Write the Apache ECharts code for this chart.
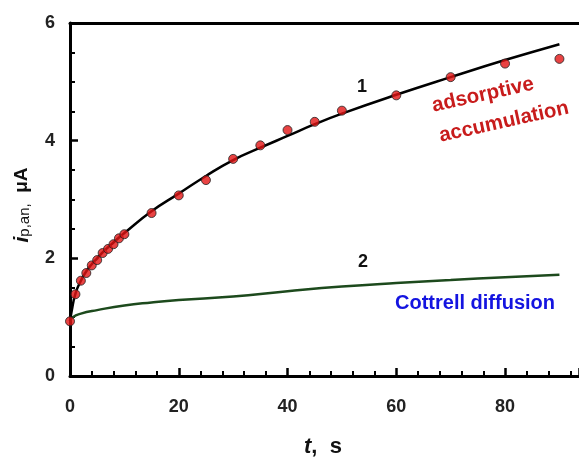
<!DOCTYPE html>
<html><head><meta charset="utf-8">
<script src="https://cdn.jsdelivr.net/npm/echarts@6/dist/echarts.min.js"></script>
<style>html,body{margin:0;padding:0;background:#fff}#c{width:579px;height:458px}</style>
</head><body><div id="c"></div>
<script>
// measured points: t (s), i (µA)
const pointT = [0, 1, 2, 3, 4, 5, 6, 7, 8, 9, 10, 15, 20, 25, 30, 35, 40, 45, 50, 60, 70, 80, 90];
const pointI = [0.93, 1.39, 1.62, 1.75, 1.88, 1.97, 2.09, 2.16, 2.24, 2.34, 2.41, 2.77, 3.07, 3.33, 3.69, 3.92, 4.18, 4.32, 4.51, 4.77, 5.08, 5.31, 5.39];
// curve 1 (adsorptive accumulation)
const curve1T = [0, 0.3, 1, 2, 3, 4, 5, 6, 8, 10, 15, 20, 25, 30, 35, 40, 45, 50, 60, 70, 80, 90];
const curve1I = [0.93, 1.1, 1.4, 1.62, 1.78, 1.9, 2.0, 2.1, 2.27, 2.43, 2.8, 3.1, 3.4, 3.67, 3.88, 4.08, 4.28, 4.46, 4.78, 5.08, 5.37, 5.64];
// curve 2 (Cottrell diffusion)
const curve2T = [0, 0.5, 2, 5, 10, 15, 20, 30, 40, 50, 60, 70, 80, 90];
const curve2I = [0.93, 1.0, 1.06, 1.12, 1.2, 1.25, 1.29, 1.35, 1.44, 1.52, 1.58, 1.63, 1.68, 1.72];
const xTicks = [0, 20, 40, 60, 80];
const yTicks = [0, 2, 4, 6];

const zip = (a, b) => a.map((v, i) => [v, b[i]]);
const chart = echarts.init(document.getElementById('c'), null, {renderer: 'canvas'});
const F = '"Liberation Sans", Arial, sans-serif';
const lab = {fontFamily: F, fontWeight: 'bold', fontSize: 18, color: '#222'};
const rot = 12.5 * Math.PI / 180;
chart.setOption({
  animation: false,
  grid: {left: 70, top: 23, right: 0, bottom: 82},
  xAxis: [{
    type: 'value', min: 0, max: 93.6, interval: 20,
    axisLine: {lineStyle: {color: '#000', width: 3}},
    axisTick: {inside: true, length: 8, lineStyle: {color: '#000', width: 2.5}},
    minorTick: {show: true, splitNumber: 5, length: 5, lineStyle: {color: '#000', width: 2}},
    axisLabel: Object.assign({margin: 22, showMaxLabel: false,
      formatter: v => xTicks.includes(v) ? String(v) : ''}, lab),
    splitLine: {show: false}
  }, {
    type: 'value', min: 0, max: 93.6, position: 'top',
    axisLine: {show: true, onZero: false, lineStyle: {color: '#000', width: 3}},
    axisTick: {show: false}, axisLabel: {show: false}, splitLine: {show: false}
  }],
  yAxis: {
    type: 'value', min: 0, max: 6, interval: 2,
    axisLine: {show: true, lineStyle: {color: '#000', width: 3}},
    axisTick: {inside: true, length: 8, lineStyle: {color: '#000', width: 2.5}},
    minorTick: {show: true, splitNumber: 4, length: 5, lineStyle: {color: '#000', width: 2}},
    axisLabel: Object.assign({margin: 15, formatter: v => yTicks.includes(v) ? String(v) : ''}, lab),
    splitLine: {show: false}
  },
  series: [
    {type: 'line', data: zip(curve2T, curve2I), smooth: true, showSymbol: false,
     lineStyle: {color: '#1d4a1d', width: 2.5}, z: 2},
    {type: 'line', data: zip(curve1T, curve1I), smooth: true, showSymbol: false,
     lineStyle: {color: '#000', width: 2.5}, z: 3},
    {type: 'scatter', data: zip(pointT, pointI), symbol: 'circle', symbolSize: 9,
     itemStyle: {color: '#e31414', borderColor: '#222', borderWidth: 1}, z: 4}
  ],
  graphic: [
    {type: 'text', x: 362, y: 87, style: {text: '1', font: 'bold 18px ' + F, fill: '#111', align: 'center', verticalAlign: 'middle'}},
    {type: 'text', x: 363, y: 262, style: {text: '2', font: 'bold 18px ' + F, fill: '#111', align: 'center', verticalAlign: 'middle'}},
    {type: 'text', x: 475, y: 303, style: {text: 'Cottrell diffusion', font: 'bold 20px ' + F, fill: '#1414e0', align: 'center', verticalAlign: 'middle'}},
    {type: 'text', x: 483, y: 95, rotation: rot,
     style: {text: 'adsorptive', font: 'bold 20.5px ' + F, fill: '#c81c1c', align: 'center', verticalAlign: 'middle'}},
    {type: 'text', x: 504, y: 122, rotation: rot,
     style: {text: 'accumulation', font: 'bold 20.5px ' + F, fill: '#c81c1c', align: 'center', verticalAlign: 'middle'}},
    {type: 'text', x: 304, y: 447,
     style: {text: '{t|t}{n|,  s}', verticalAlign: 'middle',
             rich: {t: {font: 'italic bold 22px ' + F, fill: '#111'},
                    n: {font: 'bold 22px ' + F, fill: '#111'}}}},
    {type: 'text', x: 22, y: 205, rotation: Math.PI / 2,
     style: {text: '{i|i}{s|p,an,}{u|  μA}', align: 'center', verticalAlign: 'middle',
             rich: {i: {font: 'italic bold 21px ' + F, fill: '#111'},
                    s: {font: '15px ' + F, fill: '#111', padding: [6, 0, 0, 0]},
                    u: {font: 'bold 19px ' + F, fill: '#111'}}}}
  ]
});
</script></body></html>
